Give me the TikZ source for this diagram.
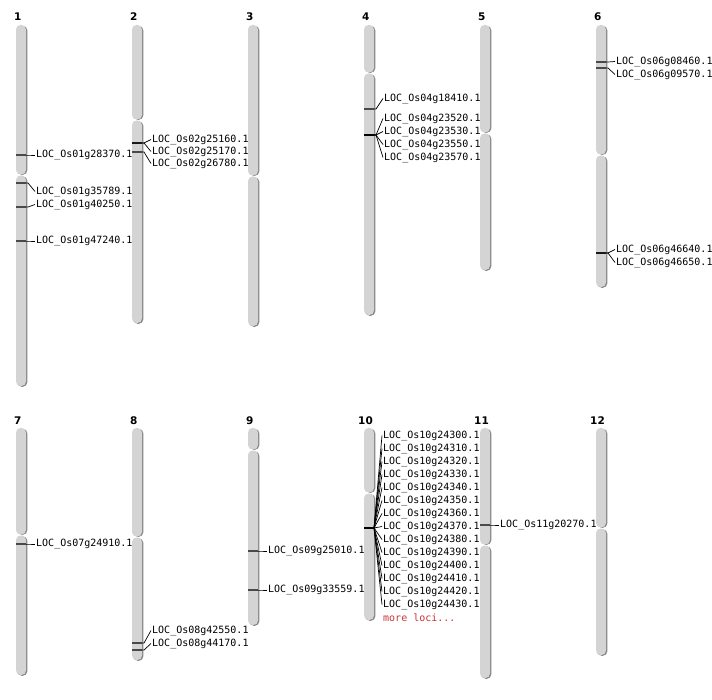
\documentclass[tikz,border=0pt]{standalone}
\usepackage{fontspec}
\usepackage{tikz}
\newfontfamily\locfont{DejaVu Sans Mono}
\newfontfamily\numfont{DejaVu Sans}
\definecolor{chromfill}{HTML}{D4D4D4}
\definecolor{chromedge}{HTML}{858585}
\definecolor{lociRed}{HTML}{CC3333}

\begin{document}
\begin{tikzpicture}[x=1pt, y=-1pt]
	\tikzstyle{arm}=[fill=chromfill, rounded corners=4.5pt]
	\tikzstyle{armshade}=[fill=chromedge, rounded corners=4.5pt]
	\tikzstyle{num}=[font={\numfont\bfseries\fontsize{10.5}{12}\selectfont}, anchor=base west, inner sep=0pt]
	\tikzstyle{loc}=[font={\locfont\fontsize{10}{12}\selectfont}, anchor=west, inner sep=1pt, yshift=-1.5pt]
	\tikzstyle{tick}=[draw=black, draw opacity=0.65, line width=1.5pt]
	\tikzstyle{lead}=[draw=black, line width=0.7pt]

	\useasboundingbox (0,0) rectangle (712,700);

	% chromosomes: number/left/top/centromere/bottom/label shift
	\foreach \n/\x/\t/\c/\b/\dx in {1/16/25/175/386/2, 2/132/25/120/323/2, 3/248/25/176/326/2,
		4/364/25/73/315/2, 5/480/25/133/270/2, 6/596/25/155/287/2,
		7/16/428/535/675/2, 8/132/428/537/660/2, 9/248/428/450/625/2,
		10/364/428/493/620/6, 11/480/428/545/678/6, 12/596/428/528/655/6}
	{
		\path[armshade] (\x+1.3,\t+0.8) rectangle (\x+11.3,\c-0.2);
		\path[armshade] (\x+1.3,\c+1.3) rectangle (\x+11.3,\b+0.8);
		\path[arm] (\x,\t) rectangle (\x+10,\c-0.5);
		\path[arm] (\x,\c+0.5) rectangle (\x+10,\b);
		\node[num] (chr\n) at (\x-\dx,\t-4) {\n};
	}

	% markers: chromosome left/tick/label/locus
	\foreach \x/\m/\l/\id in {16/155/153.5/01g28370, 16/183/190/01g35789, 16/207/203/01g40250, 16/241/239.5/01g47240,
		132/143/138/02g25160, 132/143/150/02g25170, 132/152/162/02g26780,
		364/109/97/04g18410, 364/135/117/04g23520, 364/135/130/04g23530, 364/135/143/04g23550, 364/135/156/04g23570,
		596/62/60/06g08460, 596/68/73/06g09570, 596/253/248/06g46640, 596/253/261/06g46650,
		16/544/542.5/07g24910, 132/643/629/08g42550, 132/650/642/08g44170,
		248/551/549.5/09g25010, 248/590/588.5/09g33559, 480/525/523.5/11g20270}
	{
		\draw[tick] (\x,\m) -- (\x+10,\m) coordinate (t\id);
		\node[loc] (l\id) at (\x+19,\l) {LOC\_Os\id.1};
		\draw[lead] (t\id) -- ++(2,0) -- (l\id.west);
	}

	% chromosome 10 cluster
	\foreach \k in {0,...,13}
	{
		\pgfmathtruncatemacro\gid{300+10*\k}
		\pgfmathsetmacro\ly{434+13*\k}
		\draw[tick] (364,528) -- (374,528) coordinate (t10g\gid);
		\node[loc] (l10g\gid) at (382,\ly) {LOC\_Os10g24\gid.1};
		\draw[lead] (t10g\gid) -- (l10g\gid.west);
	}
	\node[loc, text=lociRed] (more) at (382,616) {more loci...};
\end{tikzpicture}
\end{document}
